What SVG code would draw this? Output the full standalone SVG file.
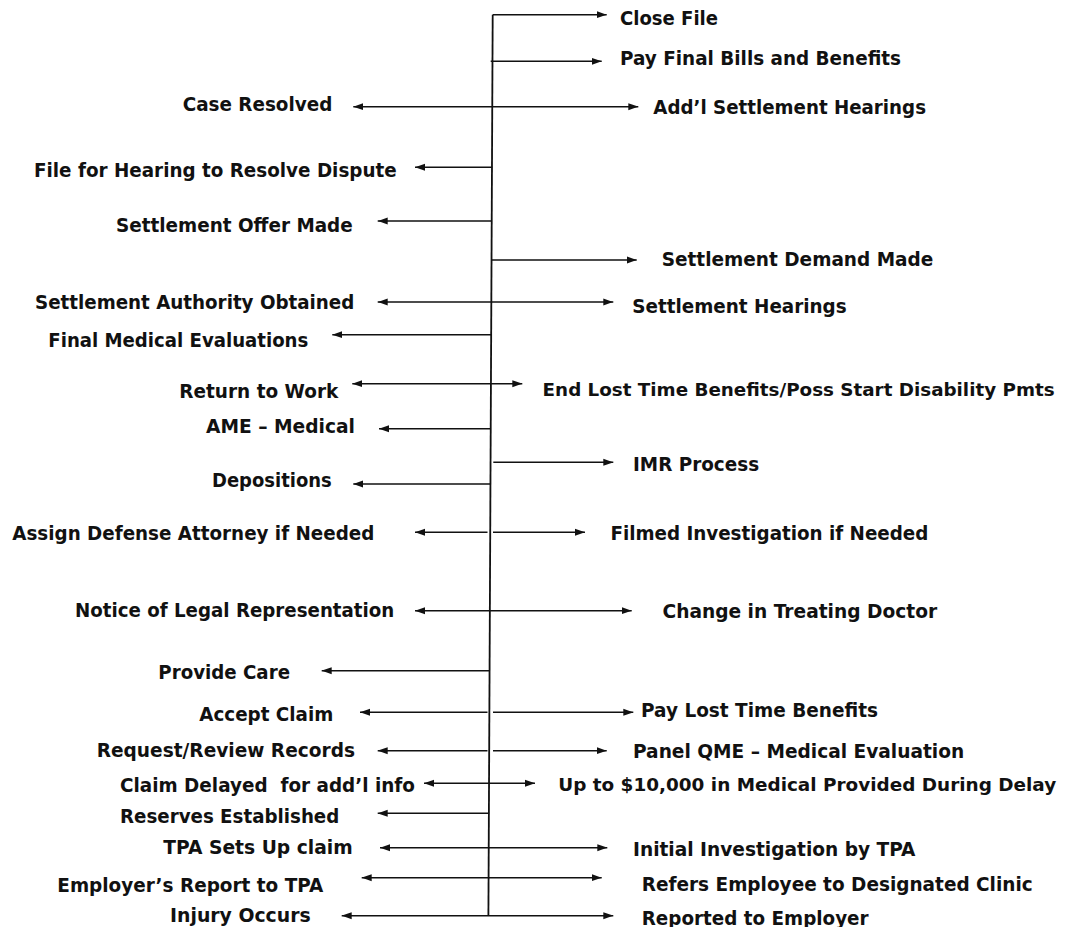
<svg xmlns="http://www.w3.org/2000/svg" width="1065" height="927" viewBox="0 0 1065 927">
<style>
text{font-family:"DejaVu Sans","Liberation Sans",sans-serif;font-weight:bold;font-size:19px;fill:#111}
text.w{font-size:18px}
.c{stroke:#111;stroke-width:1.4;fill:none}
.e{marker-end:url(#ah)}
.b{marker-start:url(#ah);marker-end:url(#ah)}
.spine{stroke:#111;stroke-width:1.8;fill:none}
</style>
<defs>
<marker id="ah" markerUnits="userSpaceOnUse" markerWidth="10" markerHeight="8" refX="10" refY="4" orient="auto-start-reverse">
<path d="M0,0.5 L10,4 L0,7.5 z" fill="#111"/>
</marker>
</defs>
<g id="connectors">
<path class="spine" d="M492.7,14.7 L488.4,915.7"/>
<path class="c e" d="M492.7,14.7 H606.7"/>
<path class="c e" d="M490.7,61.3 H601.7"/>
<path class="c b" d="M353.3,106.7 H638.3"/>
<path class="c e" d="M492.2,167.3 H415"/>
<path class="c e" d="M491.9,221 H377.7"/>
<path class="c e" d="M491.7,260 H636.7"/>
<path class="c b" d="M377.7,302 H613.3"/>
<path class="c e" d="M491.5,334.7 H332.3"/>
<path class="c b" d="M352.3,383.7 H522.3"/>
<path class="c e" d="M490.8,428.7 H379"/>
<path class="c e" d="M493.3,462.3 H613.3"/>
<path class="c e" d="M490.5,484 H353.3"/>
<path class="c e" d="M487.5,532.3 H415"/>
<path class="c e" d="M493,532.3 H585"/>
<path class="c b" d="M415,610.7 H631.7"/>
<path class="c e" d="M489.5,670.7 H321.7"/>
<path class="c e" d="M487.5,712.3 H360"/>
<path class="c e" d="M493,712.3 H633.3"/>
<path class="c e" d="M487.5,750.7 H377.7"/>
<path class="c e" d="M493,750.7 H606.7"/>
<path class="c b" d="M424,783.3 H535"/>
<path class="c e" d="M488.9,813.3 H377.7"/>
<path class="c b" d="M380,847.7 H607.3"/>
<path class="c b" d="M361.7,877.7 H601.7"/>
<path class="c b" d="M341.7,915.7 H613.3"/>
</g>
<g id="n-close-file"><text x="620" y="25" textLength="98" lengthAdjust="spacingAndGlyphs">Close File</text></g>
<g id="n-pay-final"><text x="620" y="65" textLength="281" lengthAdjust="spacingAndGlyphs">Pay Final Bills and Benefits</text></g>
<g id="n-case-resolved"><text x="182.7" y="110.7" textLength="149.6" lengthAdjust="spacingAndGlyphs">Case Resolved</text></g>
<g id="n-addl-hearings"><text x="653.3" y="114" textLength="272.7" lengthAdjust="spacingAndGlyphs">Add’l Settlement Hearings</text></g>
<g id="n-file-hearing"><text x="34" y="176.7" textLength="362.7" lengthAdjust="spacingAndGlyphs">File for Hearing to Resolve Dispute</text></g>
<g id="n-offer"><text x="116" y="232" textLength="236.7" lengthAdjust="spacingAndGlyphs">Settlement Offer Made</text></g>
<g id="n-demand"><text x="661.7" y="265.7" textLength="271.6" lengthAdjust="spacingAndGlyphs">Settlement Demand Made</text></g>
<g id="n-authority"><text x="35" y="309.3" textLength="319.3" lengthAdjust="spacingAndGlyphs">Settlement Authority Obtained</text></g>
<g id="n-hearings"><text x="632.3" y="313.3" textLength="214.4" lengthAdjust="spacingAndGlyphs">Settlement Hearings</text></g>
<g id="n-final-medical"><text x="48.3" y="346.7" textLength="260" lengthAdjust="spacingAndGlyphs">Final Medical Evaluations</text></g>
<g id="n-return-work"><text x="179.3" y="398" textLength="159" lengthAdjust="spacingAndGlyphs">Return to Work</text></g>
<g id="n-end-lost"><text class="w" x="542.6" y="395.5" textLength="512" lengthAdjust="spacingAndGlyphs">End Lost Time Benefits/Poss Start Disability Pmts</text></g>
<g id="n-ame"><text x="206" y="432.7" textLength="149" lengthAdjust="spacingAndGlyphs">AME – Medical</text></g>
<g id="n-imr"><text x="633" y="470.5" textLength="126.1" lengthAdjust="spacingAndGlyphs">IMR Process</text></g>
<g id="n-depositions"><text x="212" y="486.5" textLength="119.7" lengthAdjust="spacingAndGlyphs">Depositions</text></g>
<g id="n-defense"><text x="12.3" y="540" textLength="362" lengthAdjust="spacingAndGlyphs">Assign Defense Attorney if Needed</text></g>
<g id="n-filmed"><text x="610.4" y="540" textLength="318" lengthAdjust="spacingAndGlyphs">Filmed Investigation if Needed</text></g>
<g id="n-notice"><text x="75" y="616.7" textLength="319.3" lengthAdjust="spacingAndGlyphs">Notice of Legal Representation</text></g>
<g id="n-change-doctor"><text x="662.5" y="618.3" textLength="274.6" lengthAdjust="spacingAndGlyphs">Change in Treating Doctor</text></g>
<g id="n-provide-care"><text x="158.3" y="679.3" textLength="131.7" lengthAdjust="spacingAndGlyphs">Provide Care</text></g>
<g id="n-accept"><text x="199.3" y="720.7" textLength="134" lengthAdjust="spacingAndGlyphs">Accept Claim</text></g>
<g id="n-pay-lost"><text x="641" y="716.7" textLength="237" lengthAdjust="spacingAndGlyphs">Pay Lost Time Benefits</text></g>
<g id="n-records"><text x="96.7" y="757.3" textLength="258.3" lengthAdjust="spacingAndGlyphs">Request/Review Records</text></g>
<g id="n-qme"><text x="633" y="758.3" textLength="331.2" lengthAdjust="spacingAndGlyphs">Panel QME – Medical Evaluation</text></g>
<g id="n-delayed"><text x="120" y="791.7" textLength="295" lengthAdjust="spacingAndGlyphs" xml:space="preserve">Claim Delayed  for add’l info</text></g>
<g id="n-10000"><text class="w" x="558.2" y="790.7" textLength="498" lengthAdjust="spacingAndGlyphs">Up to $10,000 in Medical Provided During Delay</text></g>
<g id="n-reserves"><text x="120" y="822.7" textLength="219.3" lengthAdjust="spacingAndGlyphs">Reserves Established</text></g>
<g id="n-tpa-setup"><text x="163.3" y="854.3" textLength="189.4" lengthAdjust="spacingAndGlyphs">TPA Sets Up claim</text></g>
<g id="n-initial"><text x="633" y="856" textLength="282.5" lengthAdjust="spacingAndGlyphs">Initial Investigation by TPA</text></g>
<g id="n-employer-report"><text x="57.3" y="891.7" textLength="266" lengthAdjust="spacingAndGlyphs">Employer’s Report to TPA</text></g>
<g id="n-refers"><text x="641.7" y="890.5" textLength="391" lengthAdjust="spacingAndGlyphs">Refers Employee to Designated Clinic</text></g>
<g id="n-injury"><text x="170" y="922.3" textLength="140.7" lengthAdjust="spacingAndGlyphs">Injury Occurs</text></g>
<g id="n-reported"><text x="641.7" y="925" textLength="226.9" lengthAdjust="spacingAndGlyphs">Reported to Employer</text></g>
</svg>
